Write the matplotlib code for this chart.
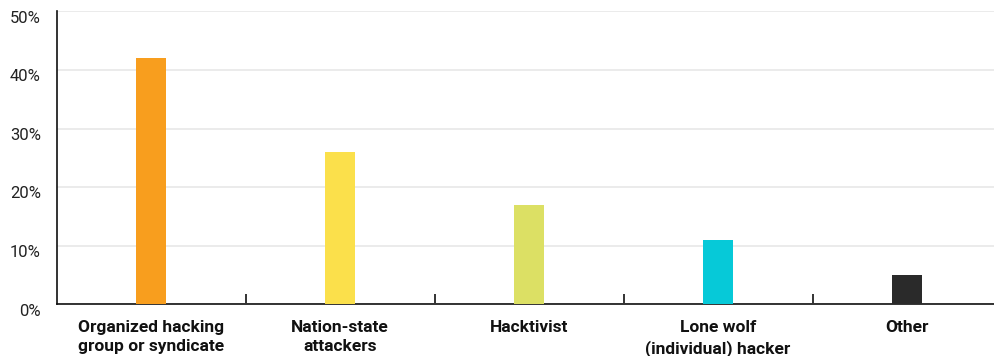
import matplotlib
matplotlib.use("Agg")
import matplotlib.pyplot as plt
import matplotlib.transforms as mtransforms
from matplotlib.ticker import FixedLocator, PercentFormatter

categories = [
    "Organized hacking\ngroup or syndicate",
    "Nation-state\nattackers",
    "Hacktivist",
    "Lone wolf\n(individual) hacker",
    "Other",
]
values = [42, 26, 17, 11, 5]
colors = ["#F89E1E", "#FBE04B", "#DCE064", "#06C9D8", "#2A2A2A"]
y_ticks = [0, 10, 20, 30, 40, 50]

plt.rcParams["font.family"] = ["Roboto", "DejaVu Sans"]

fig = plt.figure(figsize=(9.94, 3.56), dpi=100)
ax = fig.add_axes([56.5 / 994, (356 - 304.3) / 356, 945 / 994, 293 / 356])

x = list(range(len(categories)))
ax.bar(x, values, width=0.164, color=colors, zorder=3)

ax.set_xlim(-0.5, len(categories) - 0.5)
ax.set_ylim(0, 50)
ax.set_yticks(y_ticks)
ax.yaxis.set_major_formatter(PercentFormatter(decimals=0))
ax.tick_params(axis="y", length=0, pad=11.2, labelsize=12, labelcolor="#222222")
ax.grid(axis="y", color="#ebebeb", linewidth=1.4, zorder=0)

# y labels hang just below their gridline
shift = mtransforms.ScaledTranslation(0, -11.4 / 100, fig.dpi_scale_trans)
for lab in ax.get_yticklabels():
    lab.set_verticalalignment("baseline")
    lab.set_transform(lab.get_transform() + shift)

ax.set_xticks(x)
ax.set_xticklabels(categories, fontsize=12.5, fontweight="bold", color="#111111",
                   linespacing=1.4)
ax.tick_params(axis="x", which="major", length=0, pad=11)
ax.xaxis.set_minor_locator(FixedLocator([i + 0.5 for i in x[:-1]]))
ax.tick_params(axis="x", which="minor", direction="in", length=7, width=1.2,
               color="#111111")

for side in ("top", "right"):
    ax.spines[side].set_visible(False)
for side in ("left", "bottom"):
    ax.spines[side].set_color("#111111")
    ax.spines[side].set_linewidth(1.2)

fig.savefig("out.png", dpi=100)
